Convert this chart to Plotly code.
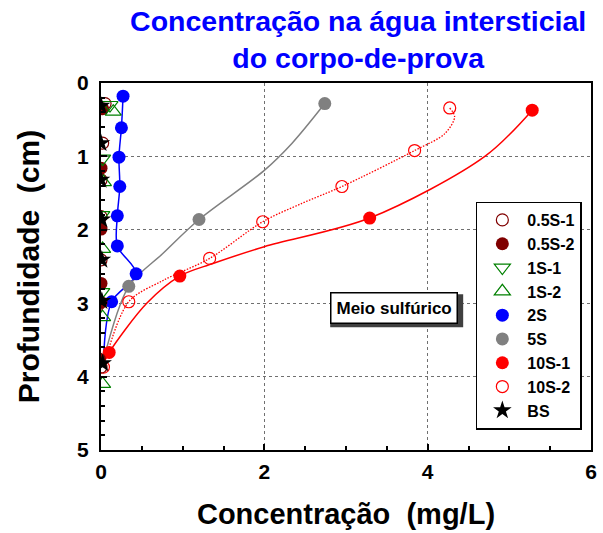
import plotly.graph_objects as go

# ---------------- data ----------------
s05_1_x = [0.05, 0.02, 0.00, 0.00, 0.00, -0.04, 0.00]
s05_1_y = [0.28, 0.82, 1.32, 1.82, 2.41, 3.03, 3.87]

s05_2_x = [0.02, 0.00, 0.00, 0.00, 0.00, -0.02]
s05_2_y = [0.35, 1.16, 1.99, 2.73, 2.99, 3.76]

s1_1_x = [0.11, 0.02, 0.01, 0.01]
s1_1_y = [0.30, 1.03, 1.80, 2.85]

s1_2_x = [0.15, 0.03, 0.02, 0.02, 0.02]
s1_2_y = [0.39, 1.35, 2.26, 3.19, 4.10]

s2_x = [0.27, 0.25, 0.22, 0.23, 0.20, 0.20, 0.43, 0.13]
s2_y = [0.18, 0.61, 1.01, 1.41, 1.81, 2.22, 2.60, 2.98]

s5_x = [2.74, 1.20, 0.34]
s5_y = [0.28, 1.86, 2.77]

s10_1_x = [5.28, 3.29, 0.965, 0.10]
s10_1_y = [0.37, 1.84, 2.63, 3.67]

s10_2_x = [4.27, 3.84, 2.95, 1.98, 1.33, 0.34, 0.03]
s10_2_y = [0.34, 0.92, 1.41, 1.89, 2.39, 2.98, 3.87]

bs_x = [0.00, 0.00, 0.00, 0.01, 0.01, 0.01, 0.02]
bs_y = [0.31, 0.82, 1.32, 1.86, 2.41, 2.97, 3.82]

# fitted curves, read along the drawn lines of the reference
fit_2s_x = [0.27, 0.25, 0.22, 0.23, 0.20, 0.20, 0.43, 0.13, 0.03]
fit_2s_y = [0.18, 0.61, 1.01, 1.41, 1.81, 2.22, 2.60, 2.98, 3.78]

fit_5s_x = [2.74, 2.34, 2.00, 1.20, 0.76, 0.34, 0.03]
fit_5s_y = [0.28, 0.82, 1.19, 1.86, 2.32, 2.77, 3.78]

fit_10s1_x = [5.28, 4.70, 3.29, 2.00, 1.37, 0.965, 0.56, 0.10, 0.03]
fit_10s1_y = [0.37, 1.00, 1.84, 2.23, 2.46, 2.63, 3.00, 3.67, 3.82]

fit_10s2_x = [4.27, 4.33, 4.21, 3.84, 2.95, 2.46, 1.98, 1.33, 0.76, 0.34, 0.03]
fit_10s2_y = [0.34, 0.46, 0.69, 0.92, 1.41, 1.64, 1.89, 2.39, 2.69, 2.98, 3.87]

x_ticks = [0, 2, 4, 6]
y_ticks = [0, 1, 2, 3, 4, 5]

FONT = "Liberation Sans, Arial, sans-serif"

fig = go.Figure()

curves = [
    (fit_2s_x, fit_2s_y, "#0000FF", "solid", 1.5),
    (fit_5s_x, fit_5s_y, "#808080", "solid", 1.5),
    (fit_10s1_x, fit_10s1_y, "#FF0000", "solid", 1.5),
    (fit_10s2_x, fit_10s2_y, "#FF0000", "1.5px,1.5px", 1.3),
]
for cx, cy, col, dash, w in curves:
    fig.add_trace(go.Scatter(x=cx, y=cy, mode="lines", showlegend=False,
                             hoverinfo="skip",
                             line=dict(color=col, width=w, dash=dash,
                                       shape="spline", smoothing=0.9)))


def add(name, x, y, symbol, color, size, rank, filled=True):
    if filled:
        marker = dict(symbol=symbol, size=size, color=color, line=dict(width=0))
    else:
        marker = dict(symbol=symbol, size=size, color=color, line=dict(color=color, width=1.2))
    fig.add_trace(go.Scatter(x=x, y=y, mode="markers", name=name,
                             legendrank=rank, marker=marker))


add("2S", s2_x, s2_y, "circle", "#0000FF", 13, 5)
add("5S", s5_x, s5_y, "circle", "#808080", 13, 6)
add("10S-1", s10_1_x, s10_1_y, "circle", "#FF0000", 13, 7)
add("10S-2", s10_2_x, s10_2_y, "circle-open", "#FF0000", 12, 8, filled=False)
add("0.5S-2", s05_2_x, s05_2_y, "circle", "#800000", 13, 2)
add("0.5S-1", s05_1_x, s05_1_y, "circle-open", "#800000", 12, 1, filled=False)
add("1S-1", s1_1_x, s1_1_y, "triangle-down-open", "#008000", 14, 3, filled=False)
add("1S-2", s1_2_x, s1_2_y, "triangle-up-open", "#008000", 14, 4, filled=False)
add("BS", bs_x, bs_y, "star", "#000000", 14, 9)

axis_common = dict(
    showline=True, linecolor="black", linewidth=2, mirror=True,
    showgrid=True, gridcolor="#707070", gridwidth=1, griddash="dot",
    zeroline=False, ticks="inside", ticklen=6, tickwidth=1.5, tickcolor="black",
    tickfont=dict(family=FONT, size=21, color="black", weight="bold"),
)

fig.update_xaxes(
    range=[0, 6], tickvals=x_ticks, ticktext=[str(v) for v in x_ticks],
    minor=dict(dtick=0.5, ticks="inside", ticklen=4, tickcolor="black", showgrid=False),
    title=dict(text="\u00a0\u00a0\u00a0Concentração\u00a0\u00a0(mg/L)", standoff=21,
               font=dict(family=FONT, size=29, color="black", weight="bold")),
    ticklabelstandoff=2,
    **axis_common,
)
fig.update_yaxes(
    range=[5, 0], tickvals=y_ticks, ticktext=[str(v) for v in y_ticks],
    minor=dict(dtick=0.2, ticks="inside", ticklen=4, tickcolor="black", showgrid=False),
    title=dict(text="Profundidade\u00a0\u00a0(cm)", standoff=29,
               font=dict(family=FONT, size=30, color="black", weight="bold")),
    ticklabelstandoff=6,
    **axis_common,
)

# drop shadow of the label box (pixel-sized rectangle anchored on the label)
fig.add_shape(type="rect", xref="x", yref="y", xsizemode="pixel", ysizemode="pixel",
              xanchor=3.59, yanchor=3.07, x0=-64, x1=69, y0=-19, y1=14,
              fillcolor="#404040", line=dict(width=0), layer="above")
fig.add_annotation(x=3.59, y=3.07, xref="x", yref="y", text="Meio sulfúrico",
                   showarrow=False,
                   font=dict(family=FONT, size=17, color="black", weight="bold"),
                   bgcolor="white", bordercolor="black", borderwidth=1.5, borderpad=5)

fig.update_layout(
    width=603, height=533,
    margin=dict(l=101, r=6, t=83, b=83),
    paper_bgcolor="white", plot_bgcolor="white",
    title=dict(text="Concentração na água intersticial<br>do corpo-de-prova",
               x=0.594, xanchor="center", xref="container",
               y=0.941, yanchor="top", yref="container",
               font=dict(family=FONT, size=28.5, color="#0000FF", weight="bold")),
    legend=dict(x=0.765, y=0.677, xanchor="left", yanchor="top",
                bgcolor="white", bordercolor="black", borderwidth=1.5,
                font=dict(family=FONT, size=16, color="black", weight="bold"),
                itemwidth=40, tracegroupgap=0),
    showlegend=True,
)

fig.write_html("out.html")
